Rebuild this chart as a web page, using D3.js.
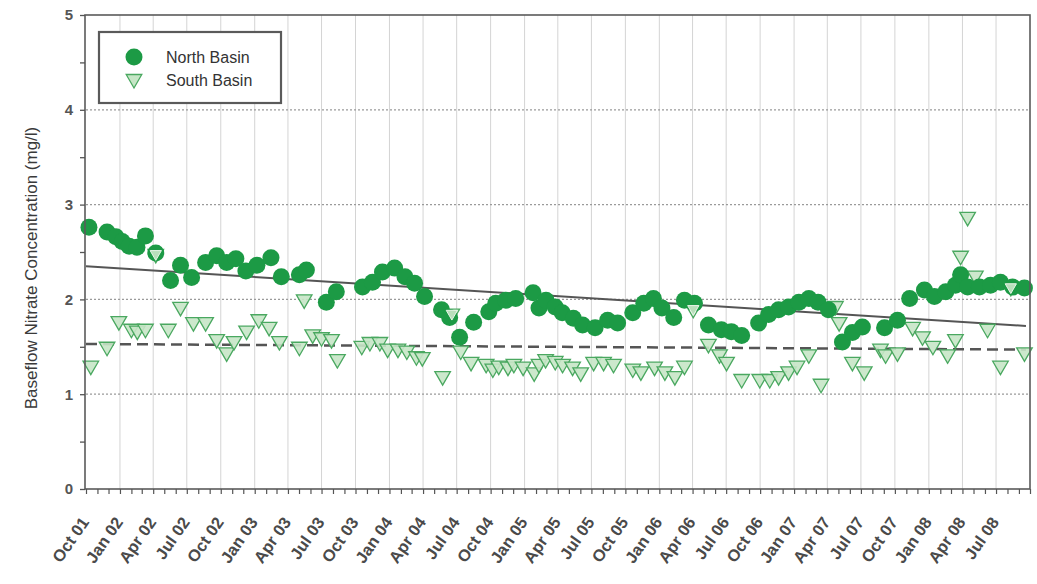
<!DOCTYPE html>
<html>
<head>
<meta charset="utf-8">
<script src="https://cdn.jsdelivr.net/npm/d3@7"></script>
<style>
  html, body { margin: 0; padding: 0; background: #ffffff; }
  svg { display: block; font-family: "Liberation Sans", Arial, sans-serif; }
</style>
</head>
<body>
<svg id="chart" width="1037" height="584"></svg>
<script>
// Baseflow nitrate sampling, North and South basins (mg/l)
const northDates = [
  "2001-10-09","2001-11-27","2001-12-21","2002-01-07","2002-01-26","2002-02-16","2002-03-11","2002-04-08",
  "2002-05-18","2002-06-14","2002-07-14","2002-08-21","2002-09-20","2002-10-17","2002-11-11","2002-12-08",
  "2003-01-07","2003-02-14","2003-03-14","2003-05-02","2003-05-21","2003-07-14","2003-08-10","2003-10-20",
  "2003-11-16","2003-12-13","2004-01-15","2004-02-12","2004-03-09","2004-04-05","2004-05-21","2004-06-12",
  "2004-07-09","2004-08-16","2004-09-26","2004-10-15","2004-11-11","2004-12-08","2005-01-24","2005-02-09",
  "2005-02-28","2005-03-25","2005-04-13","2005-05-13","2005-06-07","2005-07-11","2005-08-14","2005-09-10",
  "2005-10-21","2005-11-20","2005-12-16","2006-01-08","2006-02-09","2006-03-10","2006-04-06","2006-05-14",
  "2006-06-18","2006-07-15","2006-08-12","2006-09-27","2006-10-24","2006-11-20","2006-12-17","2007-01-14",
  "2007-02-10","2007-03-07","2007-04-04","2007-05-12","2007-06-08","2007-07-05","2007-09-03","2007-10-08",
  "2007-11-10","2007-12-20","2008-01-16","2008-02-16","2008-03-13","2008-03-27","2008-04-15","2008-05-17",
  "2008-06-16","2008-07-13","2008-08-15","2008-09-16"
];
const northValues = [
  2.76,2.71,2.66,2.61,2.56,2.55,2.67,2.49,
  2.20,2.36,2.23,2.39,2.46,2.39,2.43,2.30,
  2.36,2.44,2.24,2.26,2.31,1.97,2.08,2.13,
  2.18,2.29,2.33,2.24,2.17,2.03,1.89,1.81,
  1.60,1.76,1.87,1.96,1.99,2.01,2.07,1.91,
  1.99,1.92,1.86,1.80,1.73,1.70,1.78,1.75,
  1.86,1.96,2.01,1.91,1.81,1.99,1.96,1.73,
  1.68,1.66,1.62,1.75,1.84,1.89,1.92,1.97,
  2.01,1.97,1.89,1.55,1.65,1.71,1.70,1.78,
  2.01,2.10,2.03,2.08,2.15,2.26,2.13,2.13,
  2.15,2.18,2.13,2.12
];

const southDates = [
  "2001-10-14","2001-11-27","2001-12-29","2002-02-01","2002-02-17","2002-03-11","2002-04-08","2002-05-12",
  "2002-06-14","2002-07-19","2002-08-21","2002-09-20","2002-10-17","2002-11-06","2002-12-10","2003-01-12",
  "2003-02-09","2003-03-09","2003-05-02","2003-05-15","2003-06-07","2003-07-01","2003-07-28","2003-08-13",
  "2003-10-18","2003-11-09","2003-12-06","2003-12-27","2004-01-24","2004-02-17","2004-03-14","2004-03-30",
  "2004-05-24","2004-06-18","2004-07-12","2004-08-09","2004-09-19","2004-10-07","2004-10-23","2004-11-17",
  "2004-12-03","2004-12-28","2005-01-27","2005-02-09","2005-02-27","2005-03-25","2005-04-14","2005-05-11",
  "2005-06-02","2005-07-07","2005-08-03","2005-08-30","2005-10-21","2005-11-12","2005-12-19","2006-01-16",
  "2006-02-12","2006-03-10","2006-04-03","2006-05-14","2006-06-13","2006-07-02","2006-08-12","2006-09-30",
  "2006-10-27","2006-11-20","2006-12-17","2007-01-09","2007-02-10","2007-03-15","2007-04-23","2007-05-03",
  "2007-06-08","2007-07-10","2007-08-23","2007-09-06","2007-10-08","2007-11-18","2007-12-15","2008-01-12",
  "2008-02-21","2008-03-13","2008-03-27","2008-04-15","2008-05-06","2008-06-08","2008-07-13","2008-08-10",
  "2008-09-16"
];
const southValues = [
  1.29,1.49,1.76,1.68,1.66,1.68,2.47,1.68,
  1.91,1.75,1.75,1.57,1.43,1.55,1.66,1.78,
  1.70,1.55,1.49,1.99,1.62,1.59,1.57,1.36,
  1.50,1.54,1.54,1.47,1.47,1.45,1.39,1.38,
  1.18,1.84,1.45,1.33,1.31,1.26,1.29,1.28,
  1.31,1.28,1.22,1.31,1.36,1.34,1.31,1.28,
  1.22,1.33,1.33,1.31,1.26,1.23,1.28,1.23,
  1.18,1.29,1.89,1.52,1.41,1.33,1.15,1.15,
  1.15,1.18,1.23,1.29,1.41,1.10,1.92,1.75,
  1.33,1.23,1.47,1.41,1.43,1.70,1.60,1.50,
  1.41,1.57,2.45,2.86,2.24,1.68,1.29,2.12,
  1.43
];

// Linear trends fitted to each basin (start and end of the fitted period)
const trendDates = ["2001-10-01", "2008-09-20"];
const northTrend = [2.35, 1.72];
const southTrend = [1.53, 1.47];

const seriesNames = ["North Basin", "South Basin"];
const xTickLabels = [
  "Oct 01","Jan 02","Apr 02","Jul 02","Oct 02","Jan 03","Apr 03","Jul 03","Oct 03","Jan 04",
  "Apr 04","Jul 04","Oct 04","Jan 05","Apr 05","Jul 05","Oct 05","Jan 06","Apr 06","Jul 06",
  "Oct 06","Jan 07","Apr 07","Jul 07","Oct 07","Jan 08","Apr 08","Jul 08"
];
const yTicks = [0, 1, 2, 3, 4, 5];
const yTitle = "Baseflow Nitrate Concentration (mg/l)";

const parseDate = d3.timeParse("%Y-%m-%d");
const parseLabel = d3.timeParse("%b %y");

const margin = { left: 86, right: 1030, top: 15, bottom: 489 };
const svg = d3.select("#chart");

const x = d3.scaleTime()
  .domain([parseDate("2001-10-01"), parseDate("2008-10-01")])
  .range([margin.left, margin.right]);
const y = d3.scaleLinear().domain([0, 5]).range([margin.bottom, margin.top]);

const north = northDates.map((d, i) => ({ date: parseDate(d), value: northValues[i] }));
const south = southDates.map((d, i) => ({ date: parseDate(d), value: southValues[i] }));

const green = "#1c9a45";
const grid = svg.append("g");

// quarterly vertical grid
const quarterDates = d3.timeMonth.every(3).range(x.domain()[0], d3.timeDay.offset(x.domain()[1], 1));
grid.selectAll("line.vq").data(quarterDates.slice(1, -1)).join("line")
  .attr("x1", d => x(d)).attr("x2", d => x(d))
  .attr("y1", margin.top).attr("y2", margin.bottom)
  .attr("stroke", "#d4d4d4").attr("stroke-width", 1);

// horizontal dotted grid
grid.selectAll("line.h").data(yTicks.slice(1, -1)).join("line")
  .attr("x1", margin.left).attr("x2", margin.right)
  .attr("y1", d => y(d)).attr("y2", d => y(d))
  .attr("stroke", "#9a9a9a").attr("stroke-width", 1.2)
  .attr("stroke-dasharray", "2,2");

// trend lines
const trendLine = d3.line().x(d => x(d.date)).y(d => y(d.value));
const trendN = trendDates.map((d, i) => ({ date: parseDate(d), value: northTrend[i] }));
const trendS = trendDates.map((d, i) => ({ date: parseDate(d), value: southTrend[i] }));
svg.append("path").datum(trendN).attr("d", trendLine)
  .attr("fill", "none").attr("stroke", "#555").attr("stroke-width", 2);
svg.append("path").datum(trendS).attr("d", trendLine)
  .attr("fill", "none").attr("stroke", "#555").attr("stroke-width", 2.5)
  .attr("stroke-dasharray", "11,6");

// South basin: downward triangles
const tri = d3.symbol().type(d3.symbolTriangle).size(105);
svg.append("g").selectAll("path").data(south).join("path")
  .attr("d", tri)
  .attr("transform", d => `translate(${x(d.date)},${y(d.value) - 1}) rotate(180)`)
  .attr("fill", "#c6e6c6").attr("fill-opacity", 0.9)
  .attr("stroke", "#4aa860").attr("stroke-width", 1.3);

// North basin: filled circles
svg.append("g").selectAll("circle").data(north).join("circle")
  .attr("cx", d => x(d.date)).attr("cy", d => y(d.value))
  .attr("r", 8.5).attr("fill", green);

// South points sharing a sample with a North point are shown on top
svg.append("g").selectAll("path").data(south.filter(s =>
    north.some(n => Math.abs(n.date - s.date) < 864e5 * 12 && Math.abs(n.value - s.value) < 0.1)))
  .join("path")
  .attr("d", d3.symbol().type(d3.symbolTriangle).size(55))
  .attr("transform", d => `translate(${x(d.date)},${y(d.value) - 1}) rotate(180)`)
  .attr("fill", "#b9dfbc").attr("stroke", "#e9f5e9").attr("stroke-width", 1);

// plot frame
svg.append("rect")
  .attr("x", margin.left - 1).attr("y", margin.top)
  .attr("width", margin.right - margin.left + 1).attr("height", margin.bottom - margin.top)
  .attr("fill", "none").attr("stroke", "#5a5a5a").attr("stroke-width", 1.6);

// y axis
const yAxis = d3.axisLeft(y).tickValues(d3.range(0, 5.01, 0.5)).tickSize(5)
  .tickFormat(d => Number.isInteger(d) ? d : "");
const gy = svg.append("g").attr("transform", `translate(${margin.left - 1},0)`).call(yAxis);
gy.select(".domain").remove();
gy.selectAll("line").attr("stroke", "#555").attr("stroke-width", 1.3);
gy.selectAll("text").attr("font-size", 15).attr("font-weight", "bold").attr("fill", "#555").attr("x", -12);

// x axis: monthly ticks, quarterly labels
const monthTicks = d3.timeMonth.every(1).range(x.domain()[0], d3.timeDay.offset(x.domain()[1], 1));
const xAxis = d3.axisBottom(x).tickValues(monthTicks).tickSize(5).tickFormat("");
const gx = svg.append("g").attr("transform", `translate(0,${margin.bottom})`).call(xAxis);
gx.select(".domain").remove();
gx.selectAll("line").attr("stroke", "#555").attr("stroke-width", 1.2);

svg.append("g").selectAll("text").data(xTickLabels).join("text")
  .attr("transform", d => `translate(${x(parseLabel(d)) - 1},${margin.bottom + 30}) rotate(-55)`)
  .attr("text-anchor", "end").attr("dy", "0.35em")
  .attr("font-size", 16.5).attr("font-weight", "bold").attr("fill", "#4a4a4a")
  .text(d => d);

// y title
svg.append("text")
  .attr("transform", `translate(37,${(margin.top + margin.bottom) / 2 + 16}) rotate(-90)`)
  .attr("text-anchor", "middle")
  .attr("font-size", 17).attr("fill", "#3a3a3a")
  .text(yTitle);

// legend
const lg = svg.append("g").attr("transform", "translate(99,32)");
lg.append("rect").attr("x", 0).attr("y", 0).attr("width", 182).attr("height", 71)
  .attr("fill", "#fff").attr("stroke", "#5a5a5a").attr("stroke-width", 2.2);
lg.append("circle").attr("cx", 35).attr("cy", 25).attr("r", 8.5).attr("fill", green);
lg.append("path").attr("d", tri)
  .attr("transform", "translate(35,47) rotate(180)")
  .attr("fill", "#c6e6c6").attr("stroke", "#4aa860").attr("stroke-width", 1.3);
lg.selectAll("text").data(seriesNames).join("text")
  .attr("x", 67).attr("y", (d, i) => 25 + i * 23).attr("dy", "0.35em")
  .attr("font-size", 16).attr("fill", "#333")
  .text(d => d);
</script>
</body>
</html>
